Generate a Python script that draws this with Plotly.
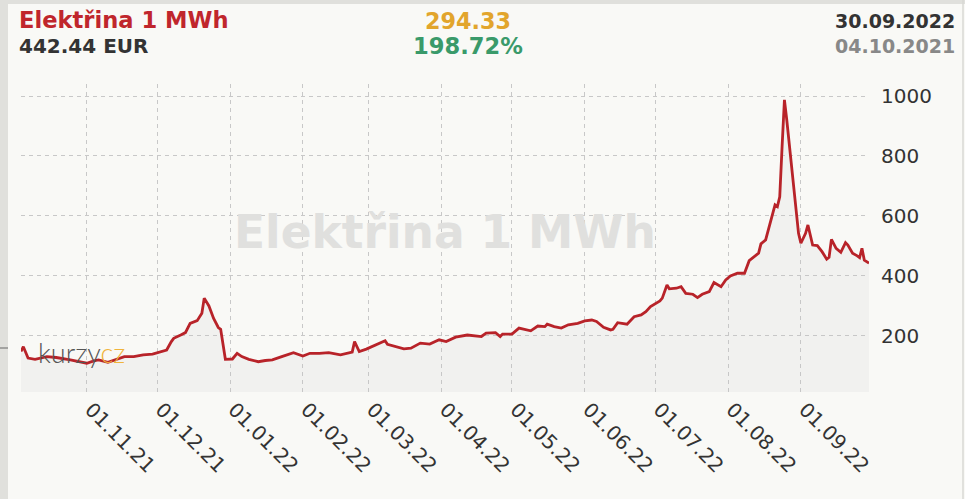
import plotly.graph_objects as go

# ---- data ----
dates = [
    "2021-10-04", "2021-10-05", "2021-10-07", "2021-10-10", "2021-10-15", "2021-10-19",
    "2021-10-25", "2021-10-29", "2021-11-01", "2021-11-04", "2021-11-06", "2021-11-10",
    "2021-11-13", "2021-11-17", "2021-11-21", "2021-11-25", "2021-11-29", "2021-12-03",
    "2021-12-05", "2021-12-07", "2021-12-08", "2021-12-11", "2021-12-13", "2021-12-15",
    "2021-12-18", "2021-12-20", "2021-12-21", "2021-12-23", "2021-12-25", "2021-12-27",
    "2021-12-28", "2021-12-30", "2022-01-02", "2022-01-04", "2022-01-06", "2022-01-09",
    "2022-01-13", "2022-01-16", "2022-01-19", "2022-01-23", "2022-01-28", "2022-02-01",
    "2022-02-04", "2022-02-08", "2022-02-12", "2022-02-17", "2022-02-21", "2022-02-22",
    "2022-02-23", "2022-02-25", "2022-02-28", "2022-03-04", "2022-03-08", "2022-03-09",
    "2022-03-13", "2022-03-16", "2022-03-19", "2022-03-23", "2022-03-27", "2022-03-31",
    "2022-04-03", "2022-04-07", "2022-04-12", "2022-04-18", "2022-04-20", "2022-04-24",
    "2022-04-26", "2022-04-27", "2022-05-01", "2022-05-04", "2022-05-09", "2022-05-12",
    "2022-05-15", "2022-05-16", "2022-05-19", "2022-05-22", "2022-05-25", "2022-05-29",
    "2022-06-01", "2022-06-04", "2022-06-06", "2022-06-09", "2022-06-12", "2022-06-13",
    "2022-06-15", "2022-06-19", "2022-06-22", "2022-06-25", "2022-06-27", "2022-06-29",
    "2022-07-03", "2022-07-04", "2022-07-06", "2022-07-07", "2022-07-10", "2022-07-12",
    "2022-07-14", "2022-07-17", "2022-07-19", "2022-07-21", "2022-07-24", "2022-07-26",
    "2022-07-29", "2022-07-31", "2022-08-02", "2022-08-05", "2022-08-08", "2022-08-10",
    "2022-08-14", "2022-08-15", "2022-08-17", "2022-08-19", "2022-08-21", "2022-08-22",
    "2022-08-23", "2022-08-24", "2022-08-25", "2022-08-26", "2022-08-28", "2022-08-30",
    "2022-08-31", "2022-09-01", "2022-09-03", "2022-09-04", "2022-09-06", "2022-09-08",
    "2022-09-10", "2022-09-12", "2022-09-13", "2022-09-14", "2022-09-16", "2022-09-18",
    "2022-09-20", "2022-09-21", "2022-09-23", "2022-09-25", "2022-09-26", "2022-09-27",
    "2022-09-28", "2022-09-30",
]
values = [
    148.11, 164, 126, 122, 131, 128,
    120, 114, 109, 117, 120, 112,
    120, 131, 131, 137, 139, 148,
    153, 181, 192, 203, 211, 242,
    251, 276, 326, 300, 258, 228,
    222, 122, 123, 142, 131, 122,
    114, 118, 120, 131, 144, 133,
    142, 142, 144, 137, 144, 146,
    181, 148, 156, 170, 184, 172,
    164, 157, 159, 176, 173, 187,
    181, 196, 203, 198, 209, 211,
    198, 206, 206, 226, 217, 233,
    231, 239, 231, 226, 237, 242,
    250, 253, 248, 229, 220, 222,
    244, 239, 264, 270, 281, 298,
    317, 326, 370, 357, 359, 364,
    342, 339, 328, 339, 348, 378,
    364, 387, 400, 409, 409, 451,
    476, 507, 520, 576, 637, 631,
    664, 831, 987, 920, 764, 609,
    542, 509, 542, 570, 503, 501,
    481, 456, 462, 522, 492, 479,
    511, 503, 476, 467, 461, 492,
    453, 442.44,
]
tick_dates = ["2021-11-01", "2021-12-01", "2022-01-01", "2022-02-01", "2022-03-01",
              "2022-04-01", "2022-05-01", "2022-06-01", "2022-07-01", "2022-08-01",
              "2022-09-01"]
tick_labels = ["01.11.21", "01.12.21", "01.01.22", "01.02.22", "01.03.22",
               "01.04.22", "01.05.22", "01.06.22", "01.07.22", "01.08.22", "01.09.22"]
y_ticks = [200, 400, 600, 800, 1000]

title_text = "Elektřina 1 MWh"
last_price = "442.44 EUR"
change_abs = "294.33"
change_pct = "198.72%"
date_last = "30.09.2022"
date_first = "04.10.2021"

# ---- layout geometry ----
W, H = 965, 499
L, R, T, B = 21, 96, 84, 107
PW, PH = W - L - R, H - T - B


def px(x):
    return (x - L) / PW


def py(y):
    return (H - B - y) / PH


FONT = "DejaVu Sans"
BG = "#f9f9f6"
FRAME = "#e0e0dc"

fig = go.Figure()
fig.add_trace(go.Scatter(
    x=dates, y=values, mode="lines",
    line=dict(color="#b82329", width=2.8),
    fill="tozeroy", fillcolor="rgba(190,190,190,0.13)",
    hoverinfo="skip",
))

ann = []


def text(x, y, s, size, color, bold=True, xanchor="left", family=FONT):
    ann.append(dict(
        x=px(x), y=py(y), xref="paper", yref="paper", text=s, showarrow=False,
        xanchor=xanchor, yanchor="middle",
        font=dict(family=family, size=size, color=color, weight="bold" if bold else "normal"),
    ))


# watermark
text(445, 232, title_text, 45.5, "#e0e0de", xanchor="center")
# header
text(17, 20, title_text, 22.6, "#c0262c")
text(17, 46, last_price, 20, "#333333")
text(468, 21, change_abs, 22.3, "#e2a52c", xanchor="center")
text(468, 46, change_pct, 22.6, "#3a9a6a", xanchor="center")
text(957, 21, date_last, 19, "#333333", xanchor="right")
text(957, 46, date_first, 19, "#888888", xanchor="right")
# logo
ann.append(dict(
    x=px(36), y=py(352), xref="paper", yref="paper", showarrow=False,
    xanchor="left", yanchor="middle",
    text="<span style='color:#555555'>kurzy</span><span style='color:#f0b43c'>cz</span>",
    font=dict(family="Lato", size=27, color="#555555", weight=300),
))

shapes = [
    # outer frame
    dict(type="rect", xref="paper", yref="paper", x0=px(0), x1=px(8), y0=py(H), y1=py(0),
         fillcolor=FRAME, line=dict(width=0), layer="above"),
    dict(type="rect", xref="paper", yref="paper", x0=px(0), x1=px(W), y0=py(4), y1=py(0),
         fillcolor=FRAME, line=dict(width=0), layer="above"),
    dict(type="line", xref="paper", yref="paper", x0=px(963), x1=px(963), y0=py(H), y1=py(0),
         line=dict(color="#d8d8d4", width=1.5), layer="above"),
    dict(type="line", xref="paper", yref="paper", x0=px(0), x1=px(8), y0=py(348), y1=py(348),
         line=dict(color="#666666", width=1), layer="above"),
]

fig.update_layout(
    width=W, height=H,
    margin=dict(l=L, r=R, t=T, b=B),
    paper_bgcolor=BG, plot_bgcolor=BG,
    showlegend=False,
    annotations=ann, shapes=shapes,
    xaxis=dict(
        range=["2021-10-04", "2022-09-30"], type="date",
        tickmode="array", tickvals=tick_dates, ticktext=tick_labels,
        tickangle=45, tickfont=dict(family=FONT, size=20, color="#333333"),
        showgrid=True, gridcolor="#c8c8c8", griddash="4px,4px", gridwidth=1,
        zeroline=False, showline=False, ticks="", ticklabelstandoff=1,
        ticklabelshift=4,
    ),
    yaxis=dict(
        range=[13, 1040], side="right",
        tickmode="array", tickvals=y_ticks,
        tickfont=dict(family=FONT, size=20, color="#333333"),
        showgrid=True, gridcolor="#c8c8c8", griddash="4px,4px", gridwidth=1,
        zeroline=False, showline=False, ticks="", ticklabelstandoff=11,
    ),
)

fig.write_html("out.html", config={"displayModeBar": False},
               post_script="document.body.style.margin='0px';")
